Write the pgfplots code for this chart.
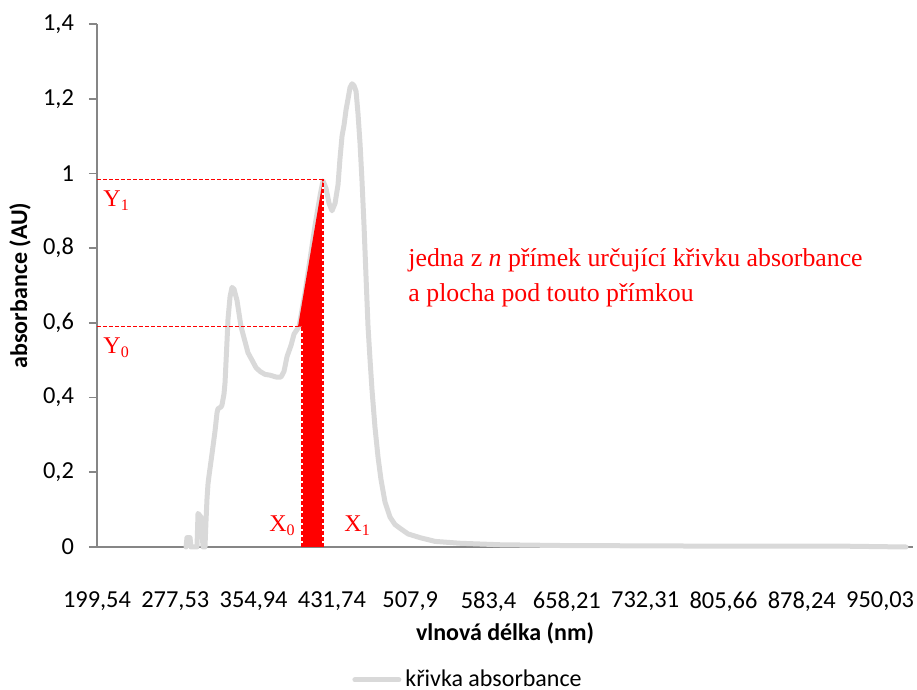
\documentclass[border=0pt]{standalone}
\usepackage{fontspec}
\setmainfont{Carlito}
\newfontfamily\tnr{Liberation Serif}
\usepackage{pgfplots}
\pgfplotsset{compat=1.18}
\definecolor{curvegrey}{HTML}{D9D9D9}
\definecolor{axgrey}{HTML}{868686}
\begin{document}
\begin{tikzpicture}
\begin{axis}[
  at={(0,0)}, anchor=south west,
  scale only axis, width=408pt, height=261.5pt,
  xmin=0, xmax=10.42, ymin=0, ymax=1.4,
  clip=false,
  axis x line*=bottom, axis y line*=left,
  axis line style={axgrey, line width=0.9pt, -},
  xtick={0,1,2,3,4,5,6,7,8,9,10},
  xticklabels={{199,54},{277,53},{354,94},{431,74},{507,9},{583,4},{658,21},{732,31},{805,66},{878,24},{950,03}},
  x tick style={draw=none},
  ytick={0,0.2,0.4,0.6,0.8,1,1.2,1.4},
  yticklabels={0,{0,2},{0,4},{0,6},{0,8},1,{1,2},{1,4}},
  y tick style={axgrey, line width=0.9pt},
  tick align=outside, major tick length=4pt,
  tick label style={font=\fontsize{12.2}{14}\selectfont, black},
  xticklabel style={yshift=-15pt},
  yticklabel style={xshift=-4pt},
  xlabel={\bfseries vlnová délka (nm)},
  ylabel={\bfseries absorbance (AU)},
  label style={font=\fontsize{12}{14}\selectfont},
  xlabel style={at={(axis description cs:0.5,-0.1644)}, anchor=center},
  ylabel style={at={(axis description cs:-0.0944,0.5)}, anchor=center},
  legend style={at={(axis description cs:0.3125,-0.254)}, anchor=west, draw=none, fill=none,
    inner sep=0pt, font=\fontsize{12}{14}\selectfont},
  legend image code/.code={\draw[#1, line cap=round] (0pt,0pt) -- (22pt,0pt);},
]
\addplot[curvegrey, line width=2.5pt, line cap=round, line join=round] coordinates {
(1.137,0) (1.149,0.025) (1.188,0.025) (1.20,0)
(1.277,0) (1.29,0.09) (1.328,0.08) (1.354,0) (1.379,0)
(1.392,0.07) (1.405,0.13) (1.418,0.17) (1.430,0.19) (1.443,0.21) (1.469,0.25)
(1.507,0.31) (1.533,0.36) (1.545,0.37) (1.584,0.375) (1.596,0.38) (1.622,0.41)
(1.635,0.44) (1.660,0.55) (1.673,0.61) (1.699,0.67) (1.724,0.695) (1.750,0.69)
(1.788,0.66) (1.839,0.59) (1.890,0.55) (1.928,0.52) (1.980,0.50) (2.031,0.48)
(2.082,0.47) (2.146,0.462) (2.209,0.46) (2.286,0.455) (2.350,0.455) (2.388,0.47)
(2.427,0.51) (2.478,0.54) (2.516,0.57) (2.580,0.59) (2.656,0.68) (2.720,0.77)
(2.784,0.86) (2.848,0.94) (2.886,0.98) (2.925,0.96) (2.963,0.92) (3.001,0.90)
(3.040,0.92) (3.078,0.97) (3.103,1.04) (3.129,1.10) (3.155,1.13) (3.180,1.17)
(3.206,1.20) (3.231,1.23) (3.257,1.24) (3.282,1.235) (3.308,1.22) (3.333,1.16)
(3.359,1.08) (3.384,0.98) (3.410,0.86) (3.436,0.72) (3.461,0.59) (3.487,0.50)
(3.512,0.42) (3.550,0.32) (3.589,0.24) (3.627,0.18) (3.678,0.12) (3.742,0.08)
(3.806,0.06) (3.870,0.05) (3.972,0.035) (4.125,0.025) (4.317,0.015) (4.636,0.01)
(5.147,0.006) (5.913,0.004) (7.063,0.003) (8.340,0.002) (9.617,0.002) (10.33,0.0)
};
\addlegendentry{křivka absorbance}
% red area under the line segment
\addplot[red, fill=red, draw=none, forget plot] coordinates {
(2.567,0.59) (2.886,0.984) (2.886,0) (2.618,0) (2.618,0.59)
} -- cycle;
% dashed guide lines
\addplot[red, line width=0.75pt, dash pattern=on 2pt off 1pt, forget plot] coordinates {(0,0.984) (2.886,0.984)};
\addplot[red, line width=0.75pt, dash pattern=on 2pt off 1pt, forget plot] coordinates {(0,0.59) (2.58,0.59)};
\addplot[white, line width=0.9pt, forget plot] coordinates {(2.618,0) (2.618,0.59)};
\addplot[white, line width=0.9pt, forget plot] coordinates {(2.886,0) (2.886,0.97)};
\addplot[red, line width=0.9pt, dash pattern=on 2pt off 1pt, forget plot] coordinates {(2.618,0) (2.618,0.59)};
\addplot[red, line width=0.9pt, dash pattern=on 2pt off 1pt, forget plot] coordinates {(2.886,0) (2.886,0.984)};
% annotations
\node[anchor=base west, inner sep=0pt, red, font=\tnr\fontsize{12}{14}\selectfont] at (axis cs:0.077,0.911) {Y\textsubscript{1}};
\node[anchor=base west, inner sep=0pt, red, font=\tnr\fontsize{12}{14}\selectfont] at (axis cs:0.077,0.517) {Y\textsubscript{0}};
\node[anchor=base east, inner sep=0pt, red, font=\tnr\fontsize{12}{14}\selectfont] at (axis cs:2.541,0.041) {X\textsubscript{0}};
\node[anchor=base west, inner sep=0pt, red, font=\tnr\fontsize{12}{14}\selectfont] at (axis cs:3.155,0.041) {X\textsubscript{1}};
\node[anchor=base west, inner sep=0pt, red, font=\tnr\fontsize{12.9}{15}\selectfont] at (axis cs:3.972,0.752) {jedna z \textit{n} přímek určující křivku absorbance};
\node[anchor=base west, inner sep=0pt, red, font=\tnr\fontsize{12.9}{15}\selectfont] at (axis cs:3.972,0.657) {a plocha pod touto přímkou};
\end{axis}
\pgfresetboundingbox
\useasboundingbox (-48.5pt,-71.5pt) rectangle (410pt,273.5pt);
\end{tikzpicture}
\end{document}
